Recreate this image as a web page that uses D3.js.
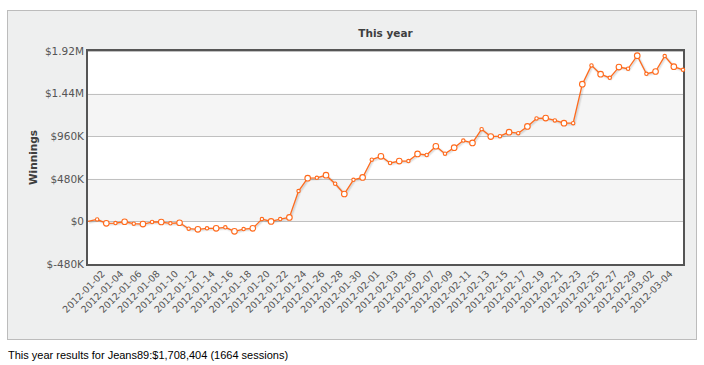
<!DOCTYPE html>
<html><head><meta charset="utf-8">
<script src="https://cdn.jsdelivr.net/npm/d3@7"></script>
<style>
body{margin:0;background:#fff;}
svg{display:block;}
</style></head>
<body>
<svg id="chart" width="704" height="365"></svg>
<script>
const chartTitle = "This year";
const yTitle = "Winnings";
const footerText = "This year results for Jeans89:$1,708,404 (1664 sessions)";

const dates = [
 "2012-01-01","2012-01-02","2012-01-03","2012-01-04","2012-01-05","2012-01-06","2012-01-07","2012-01-08","2012-01-09","2012-01-10",
 "2012-01-11","2012-01-12","2012-01-13","2012-01-14","2012-01-15","2012-01-16","2012-01-17","2012-01-18","2012-01-19","2012-01-20",
 "2012-01-21","2012-01-22","2012-01-23","2012-01-24","2012-01-25","2012-01-26","2012-01-27","2012-01-28","2012-01-29","2012-01-30",
 "2012-01-31","2012-02-01","2012-02-02","2012-02-03","2012-02-04","2012-02-05","2012-02-06","2012-02-07","2012-02-08","2012-02-09",
 "2012-02-10","2012-02-11","2012-02-12","2012-02-13","2012-02-14","2012-02-15","2012-02-16","2012-02-17","2012-02-18","2012-02-19",
 "2012-02-20","2012-02-21","2012-02-22","2012-02-23","2012-02-24","2012-02-25","2012-02-26","2012-02-27","2012-02-28","2012-02-29",
 "2012-03-01","2012-03-02","2012-03-03","2012-03-04","2012-03-05","2012-03-06"
];

// cumulative winnings in $K
const winnings = [
 0, 22, -22, -19, -4, -26, -30, -7, -7, -22,
 -15, -82, -89, -78, -78, -67, -112, -86, -78, 26,
 0, 26, 45, 342, 487, 491, 521, 424, 309, 469,
 495, 695, 733, 658, 680, 680, 760, 748, 847, 763,
 831, 911, 884, 1039, 956, 960, 1005, 994, 1070, 1160,
 1164, 1138, 1107, 1107, 1546, 1758, 1659, 1618, 1739, 1720,
 1867, 1663, 1689, 1863, 1743, 1708
];

const yTicks = [-480, 0, 480, 960, 1440, 1920];
const yTickLabels = ["$-480K", "$0", "$480K", "$960K", "$1.44M", "$1.92M"];
const xLabelDates = [
 "2012-01-02","2012-01-04","2012-01-06","2012-01-08","2012-01-10","2012-01-12","2012-01-14","2012-01-16",
 "2012-01-18","2012-01-20","2012-01-22","2012-01-24","2012-01-26","2012-01-28","2012-01-30","2012-02-01",
 "2012-02-03","2012-02-05","2012-02-07","2012-02-09","2012-02-11","2012-02-13","2012-02-15","2012-02-17",
 "2012-02-19","2012-02-21","2012-02-23","2012-02-25","2012-02-27","2012-02-29","2012-03-02","2012-03-04"
];

const svg = d3.select("#chart");
const L = 88, R = 683, T = 51, B = 264;

// outer panel
svg.append("rect").attr("x", 7.5).attr("y", 10.5).attr("width", 689).attr("height", 329)
  .attr("fill", "#eeefef").attr("stroke", "#bcbcbc").attr("stroke-width", 1);

const x = d3.scalePoint().domain(dates).range([L, R]);
const y = d3.scaleLinear().domain([-480, 1920]).range([B, T]);

// plot background and alternating bands
svg.append("rect").attr("x", L).attr("y", T).attr("width", R - L).attr("height", B - T).attr("fill", "#fff");
svg.append("g").selectAll("rect").data(d3.pairs(yTicks)).join("rect")
  .attr("x", L).attr("width", R - L)
  .attr("y", d => y(d[1])).attr("height", d => y(d[0]) - y(d[1]))
  .attr("fill", (d, i) => i % 2 === 1 ? "#f5f5f5" : "none");

// grid
svg.append("g").selectAll("line").data(yTicks).join("line")
  .attr("x1", L).attr("x2", R)
  .attr("y1", d => Math.round(y(d)) + 0.5).attr("y2", d => Math.round(y(d)) + 0.5)
  .attr("stroke", "#c0c0c0").attr("stroke-width", 1);

// y axis labels
const yAxis = d3.axisLeft(y).tickValues(yTicks).tickSize(0).tickPadding(4)
  .tickFormat((d, i) => yTickLabels[i]);
const gy = svg.append("g").attr("transform", `translate(${L},0)`).call(yAxis);
gy.select(".domain").remove();
gy.selectAll("text").attr("font-family", "DejaVu Sans, Verdana, sans-serif")
  .attr("font-size", "10.5px").attr("fill", "#555");

// x axis labels
const xAxis = d3.axisBottom(x).tickValues(xLabelDates).tickSize(0);
const gx = svg.append("g").attr("transform", `translate(0,${B})`).call(xAxis);
gx.select(".domain").remove();
gx.selectAll("text")
  .attr("font-family", "DejaVu Sans, Verdana, sans-serif")
  .attr("font-size", "9.5px").attr("fill", "#555")
  .attr("text-anchor", "end").attr("dy", null).attr("y", null)
  .attr("transform", "translate(8,10.5) rotate(-45)");

// line shadow
const line = d3.line().x((d, i) => x(dates[i])).y(d => y(d));
[4, 2].forEach((w, k) => {
  svg.append("path").datum(winnings).attr("d", line).attr("fill", "none")
    .attr("stroke", "rgba(0,0,0," + (0.04 * (k + 1)) + ")").attr("stroke-width", w)
    .attr("transform", "translate(1,1)");
});
svg.append("path").datum(winnings).attr("d", line).attr("fill", "none")
  .attr("stroke", "#ff6a1c").attr("stroke-width", 1.3).attr("stroke-linejoin", "round");

// plot border
svg.append("rect").attr("x", L - 1).attr("y", T - 1).attr("width", R - L + 2).attr("height", B - T + 2)
  .attr("fill", "none").attr("stroke", "#555").attr("stroke-width", 2);

// markers
svg.append("g").selectAll("circle").data(winnings.map((v, i) => ({v, i})).filter(d => d.i > 0)).join("circle")
  .attr("cx", d => x(dates[d.i])).attr("cy", d => y(d.v))
  .attr("r", d => d.i % 2 === 0 ? 2.8 : 1.7)
  .attr("fill", "#fff").attr("stroke", "#ff6a1c").attr("stroke-width", 1.1);

// titles
svg.append("text").attr("x", (L + R) / 2).attr("y", 37).attr("text-anchor", "middle")
  .attr("font-family", "DejaVu Sans, Verdana, sans-serif").attr("font-weight", "bold")
  .attr("font-size", "10.5px").attr("fill", "#3e3e3e").text(chartTitle);
svg.append("text").attr("transform", `translate(37,${(T + B) / 2}) rotate(-90)`).attr("text-anchor", "middle")
  .attr("font-family", "DejaVu Sans, Verdana, sans-serif").attr("font-weight", "bold")
  .attr("font-size", "10.5px").attr("fill", "#3e3e3e").text(yTitle);

// footer
svg.append("text").attr("x", 8).attr("y", 359)
  .attr("font-family", "Liberation Sans, Arial, Helvetica, sans-serif")
  .attr("font-size", "11px").attr("fill", "#000").text(footerText);
</script>
</body></html>
